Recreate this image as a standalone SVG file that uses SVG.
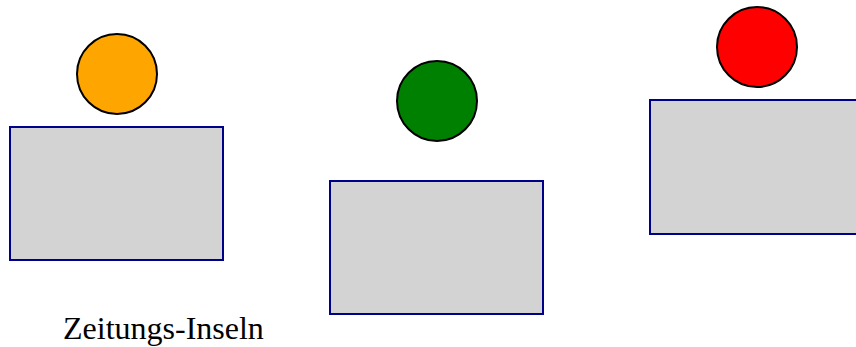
<svg xmlns="http://www.w3.org/2000/svg" width="856" height="347" viewBox="0 0 856 347">
<style>
.island{fill:#d3d3d3;stroke:#00008b;stroke-width:2}
.light{stroke:#000;stroke-width:2}
.label{font-family:"Liberation Serif","Times New Roman",serif;font-size:32px;fill:#000}
</style>
<rect width="856" height="347" fill="#fff"/>
<g id="island1">
<rect class="island" x="10" y="127" width="213" height="133"/>
<circle class="light" cx="117" cy="74" r="40" fill="#ffa500"/>
</g>
<g id="island2">
<rect class="island" x="330" y="181" width="213" height="133"/>
<circle class="light" cx="437" cy="101" r="40" fill="#008000"/>
</g>
<g id="island3">
<rect class="island" x="650" y="100" width="213" height="134"/>
<circle class="light" cx="757" cy="47" r="40" fill="#ff0000"/>
</g>
<g id="connectors"></g>
<text class="label" x="63" y="339">Zeitungs-Inseln</text>
</svg>
